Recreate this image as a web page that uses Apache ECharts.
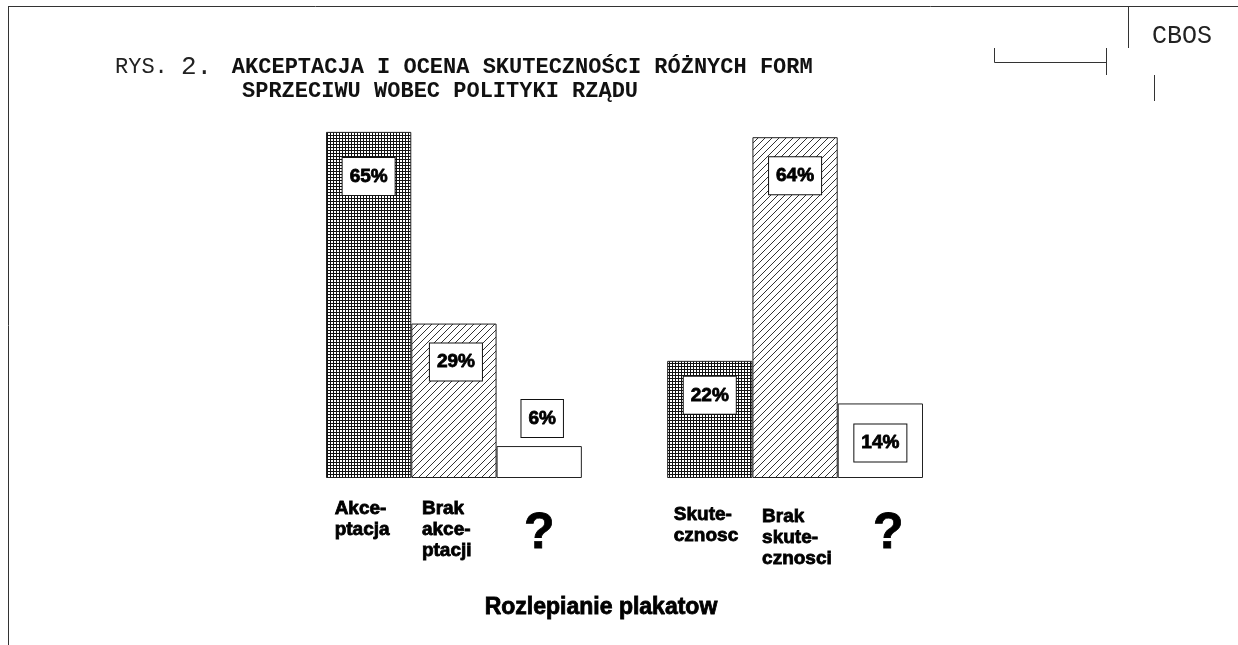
<!DOCTYPE html>
<html><head><meta charset="utf-8">
<script src="https://cdn.jsdelivr.net/npm/echarts@6/dist/echarts.min.js"></script>
<style>html,body{margin:0;padding:0;background:#fff}#c{width:1238px;height:645px}</style>
</head><body><div id="c"></div>
<script>
// ---- data ----
const categories = ['Akceptacja', 'Brak akceptacji', '? (akceptacja)', '', 'Skutecznosc', 'Brak skutecznosci', '? (skutecznosc)'];
const values = [65, 29, 6, '-', 22, 64, 14];
const fillKinds = ['grid', 'hatch', 'blank', 'none', 'grid', 'hatch', 'blank'];
const categoryLabels = ['Akce-\nptacja', 'Brak\nakce-\nptacji', '?', '', 'Skute-\ncznosc', 'Brak\nskute-\ncznosci', '?'];
const figureNo = ['RYS.', '2.'];
const titleLine1 = 'AKCEPTACJA I OCENA SKUTECZNOŚCI RÓŻNYCH FORM';
const titleLine2 = 'SPRZECIWU WOBEC POLITYKI RZĄDU';
const sourceLabel = 'CBOS';
const groupTitle = 'Rozlepianie plakatow';

// ---- layout / style (not data) ----
const labelLayout = [
  {position: 'insideTop', distance: 26},
  {position: 'insideTop', distance: 20, offset: [2, 0]},
  {position: 'top', distance: 9, offset: [3, 0]},
  {},
  {position: 'insideTop', distance: 16},
  {position: 'insideTop', distance: 20},
  {position: 'insideTop', distance: 21}
];
const catLabelDx = [-34, -32, 0, 0, -36, -33, 8];
const catLabelDy = [20, 20, 31, 0, 26, 28, 31];

function makeGrid() {
  const c = document.createElement('canvas'); c.width = 3; c.height = 3;
  const g = c.getContext('2d');
  g.fillStyle = '#fff'; g.fillRect(0, 0, 3, 3);
  g.fillStyle = '#111'; g.fillRect(0, 0, 3, 1); g.fillRect(0, 0, 1, 3);
  return c;
}
function makeHatch() {
  const s = 7;
  const c = document.createElement('canvas'); c.width = s; c.height = s;
  const g = c.getContext('2d');
  g.fillStyle = '#fff'; g.fillRect(0, 0, s, s);
  g.strokeStyle = '#333'; g.lineWidth = 1;
  g.beginPath();
  g.moveTo(-1, s + 1); g.lineTo(s + 1, -1);
  g.moveTo(-1, 1); g.lineTo(1, -1);
  g.moveTo(s - 1, s + 1); g.lineTo(s + 1, s - 1);
  g.stroke();
  return c;
}
const fills = {
  grid: {image: makeGrid(), repeat: 'repeat'},
  hatch: {image: makeHatch(), repeat: 'repeat'},
  blank: '#ffffff',
  none: 'transparent'
};

const mono = '"Liberation Mono", "Courier New", monospace';
const sans = '"Liberation Sans", Arial, sans-serif';
const heavy = {textBorderColor: '#000', textBorderWidth: 0.8};

const chart = echarts.init(document.getElementById('c'), null, {renderer: 'canvas'});

function L(x1, y1, x2, y2) {
  return {type: 'line', silent: true, shape: {x1, y1, x2, y2}, style: {stroke: '#333', lineWidth: 1}};
}

const baseTitles = [
  {
    left: 115, top: 54, padding: 0,
    text: '{r|' + figureNo[0] + ' }{n|' + figureNo[1] + ' }{b|' + titleLine1 + '}',
    textStyle: {
      rich: {
        r: {fontFamily: mono, fontSize: 22, fontWeight: 'normal', color: '#222'},
        n: {fontFamily: mono, fontSize: 26, fontWeight: 'normal', color: '#222'},
        b: {fontFamily: mono, fontSize: 22, fontWeight: 'bold', color: '#111', padding: [0, 0, 0, 4]}
      }
    }
  },
  {
    left: 242, top: 80, padding: 0, text: titleLine2,
    textStyle: {fontFamily: mono, fontSize: 22, fontWeight: 'bold', color: '#111', lineHeight: 22}
  },
  {
    left: 1152, top: 24, padding: 0, text: sourceLabel,
    textStyle: {fontFamily: mono, fontSize: 25, fontWeight: 'normal', color: '#222', lineHeight: 25}
  },
  {
    left: 601, top: 596, padding: 0, textAlign: 'center', text: groupTitle,
    textStyle: Object.assign({fontFamily: sans, fontSize: 23, fontWeight: 'bold', color: '#000', lineHeight: 23}, heavy)
  }
];

const option = {
  animation: false,
  backgroundColor: '#fff',
  title: baseTitles,
  grid: {left: 326, right: 315, top: 52, bottom: 167},
  xAxis: {
    type: 'category', data: categories, boundaryGap: true,
    axisLine: {show: false}, axisTick: {show: false}, axisLabel: {show: false}, splitLine: {show: false}
  },
  yAxis: {type: 'value', min: 0, max: 80, show: false, splitLine: {show: false}},
  series: [{
    type: 'bar',
    silent: true,
    barWidth: '100%',
    barCategoryGap: 0,
    label: Object.assign({
      show: true, formatter: '{c}%',
      backgroundColor: '#fff', borderColor: '#111', borderWidth: 1,
      padding: [9, 7, 9, 7],
      fontFamily: sans, fontWeight: 'bold', fontSize: 19, lineHeight: 19, color: '#000'
    }, heavy),
    data: values.map((v, i) => ({
      value: v,
      itemStyle: {color: fills[fillKinds[i]], borderColor: '#222', borderWidth: 1},
      label: Object.assign({}, labelLayout[i])
    }))
  }],
  graphic: [
    L(8, 6.5, 1238, 6.5),
    L(8.5, 6, 8.5, 645),
    L(1128.5, 6, 1128.5, 48),
    L(994.5, 48, 994.5, 62.5),
    L(994.5, 62.5, 1106.5, 62.5),
    L(1106.5, 48, 1106.5, 75),
    L(1154.5, 75, 1154.5, 101)
  ]
};
chart.setOption(option);

// category labels positioned from the axis scale
const gridBottom = chart.convertToPixel({yAxisIndex: 0}, 0);
const catTitles = [];
categories.forEach((c, i) => {
  if (!categoryLabels[i]) return;
  const cx = chart.convertToPixel({xAxisIndex: 0}, c);
  const isQ = categoryLabels[i] === '?';
  catTitles.push({
    left: cx + catLabelDx[i], top: gridBottom + catLabelDy[i], padding: 0,
    textAlign: isQ ? 'center' : 'left',
    text: categoryLabels[i],
    textStyle: Object.assign({
      fontFamily: sans, fontWeight: 'bold', color: '#000',
      fontSize: isQ ? 50 : 19, lineHeight: isQ ? 50 : 21
    }, heavy)
  });
});
chart.setOption({title: baseTitles.concat(catTitles)});
</script>
</body></html>
